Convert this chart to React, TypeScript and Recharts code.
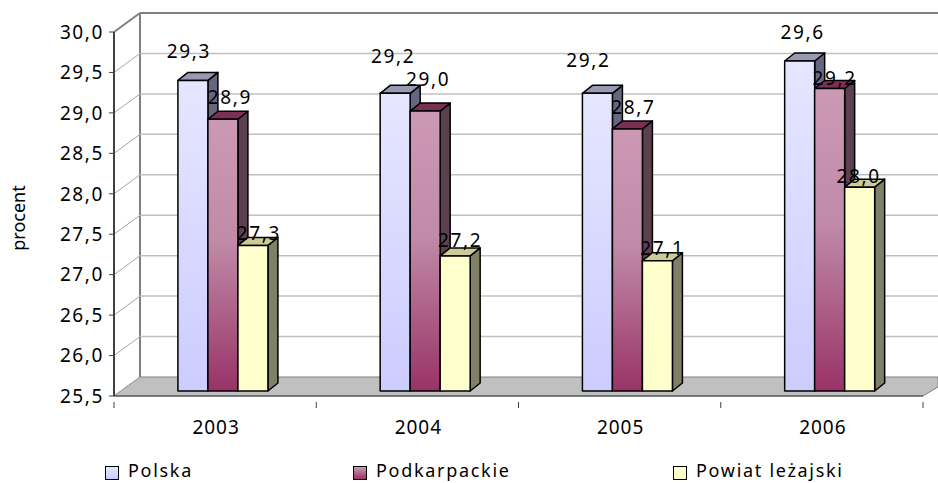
import { Bar, BarChart, CartesianGrid, LabelList, Legend, XAxis, YAxis } from "recharts";

const years = ["2003", "2004", "2005", "2006"];
const polska = [29.34, 29.18, 29.18, 29.58];
const podkarpackie = [28.86, 28.96, 28.74, 29.24];
const powiat = [27.3, 27.17, 27.11, 28.02];
const yTicks = [25.5, 26, 26.5, 27, 27.5, 28, 28.5, 29, 29.5, 30];

const data = years.map((year, i) => ({
  year,
  Polska: polska[i],
  Podkarpackie: podkarpackie[i],
  "Powiat leżajski": powiat[i],
}));

const FONT = "'Noto Sans', sans-serif";
const WIDTH = 938;
const HEIGHT = 483;
const X_AXIS_HEIGHT = 30;
const MARGIN = { top: 32, right: 15, left: 0, bottom: 87 - X_AXIS_HEIGHT };
const Y_AXIS_WIDTH = 114;
const BAND = (WIDTH - Y_AXIS_WIDTH - MARGIN.right) / years.length;
const WALL_X = 26;
const WALL_Y = 19;
const BAR_DX = 8.5;

// hand placed label offsets from the bar's top centre, the original has them all over
const polskaShift = [[-5, -29], [-3, -37], [-10, -33], [2, -29]];
const podkarpackieShift = [[6, -22], [2, -32], [5, -22], [4, -10]];
const powiatShift = [[5, -12], [4, -16], [4, -13], [-2, -11]];

const fmt = (v: number) => v.toFixed(1).replace(".", ",");

function gridLine(props: any) {
  const { x1, y1, x2, index } = props;
  const edge = y1 <= MARGIN.top + 1;
  const floor = index === 0 || y1 >= HEIGHT - MARGIN.bottom - X_AXIS_HEIGHT - 1;
  const bx = x1 + WALL_X;
  const by = y1 - WALL_Y;
  return (
    <g key={`line-${y1}`}>
      {floor && (
        <polygon
          points={`${x1},${y1} ${bx},${by} ${WIDTH},${by} ${WIDTH},${y1 - 9} ${x2},${y1}`}
          fill="#c0c0c0"
          stroke="#808080"
          strokeWidth={1}
        />
      )}
      {floor && <line x1={bx} y1={by} x2={bx} y2={MARGIN.top - WALL_Y} stroke="#808080" strokeWidth={2} />}
      <line x1={x1} y1={y1} x2={bx} y2={by} stroke={edge ? "#808080" : "#a6a6a6"} strokeWidth={edge ? 2 : 1} />
      {!floor && <line x1={bx} y1={by} x2={WIDTH} y2={by} stroke={edge ? "#808080" : "#c0c0c0"} strokeWidth={edge ? 2 : 1.5} />}
    </g>
  );
}

function box(front: string, side: string, top: string) {
  return function Box3D(props: any) {
    const { x, y, width, height } = props;
    const dy = -5;
    const ox = 10;
    const oy = -8;
    const l = x + BAR_DX;
    const t = y + dy;
    const r = l + width;
    const b = t + height;
    return (
      <g stroke="#000" strokeWidth={1.5} strokeLinejoin="round">
        <polygon points={`${r},${t} ${r + ox},${t + oy} ${r + ox},${b + oy} ${r},${b}`} fill={side} />
        <polygon points={`${l},${t} ${l + ox},${t + oy} ${r + ox},${t + oy} ${r},${t}`} fill={top} />
        <rect x={l} y={t} width={width} height={height} fill={front} />
      </g>
    );
  };
}

function valueLabel(shift: number[][]) {
  return function ValueLabel(props: any) {
    const { x, y, width, value, index } = props;
    return (
      <text
        x={x + 9.5 + width / 2 + shift[index][0]}
        y={y - 5 + shift[index][1] + 7}
        textAnchor="middle"
        fontFamily={FONT}
        fontSize={19}
        letterSpacing={1.6}
        fill="#000"
      >
        {fmt(value)}
      </text>
    );
  };
}

function YearTick(props: any) {
  const { x, y, payload, index } = props;
  const left = x - BAND / 2;
  return (
    <g>
      <line x1={left} y1={y - 8} x2={left} y2={y - 2} stroke="#404040" />
      {index === years.length - 1 && <line x1={left + BAND} y1={y - 8} x2={left + BAND} y2={y - 2} stroke="#404040" />}
      <text x={x + 1} y={y + 24} textAnchor="middle" fontFamily={FONT} fontSize={19} letterSpacing={1} fill="#000">
        {payload.value}
      </text>
    </g>
  );
}

function ProcentLabel() {
  return (
    <text transform="translate(25,218) rotate(-90)" textAnchor="middle" fontFamily={FONT} fontSize={18} fill="#000">
      procent
    </text>
  );
}

const legendItems = [
  { left: 105, background: "linear-gradient(#e6e6ff, #ccccff)" },
  { left: 353, background: "linear-gradient(#cc99b5, #993366)" },
  { left: 673, background: "#ffffcc" },
];

function LegendContent({ payload }: any) {
  return (
    <div style={{ position: "relative", height: 0 }}>
      {(payload || []).map((p: any, i: number) => (
        <div key={p.value} style={{ position: "absolute", left: legendItems[i].left, top: 0 }}>
          <div
            style={{
              position: "absolute",
              left: 0,
              top: 1,
              width: 12,
              height: 12,
              border: "1.5px solid #000",
              background: legendItems[i].background,
            }}
          />
          <span
            style={{
              position: "absolute",
              left: 23,
              top: -5,
              fontFamily: FONT,
              fontSize: 18,
              lineHeight: "20px",
              letterSpacing: 1.7,
              whiteSpace: "nowrap",
              color: "#000",
            }}
          >
            {p.value}
          </span>
        </div>
      ))}
    </div>
  );
}

export default function App() {
  return (
    <div style={{ position: "absolute", left: 0, top: 0, width: WIDTH, height: HEIGHT }}>
      <BarChart width={WIDTH} height={HEIGHT} data={data} margin={MARGIN} barGap={0} barCategoryGap="27.4%">
        <defs>
          <linearGradient id="polskaFill" x1="0" y1="0" x2="0" y2="1">
            <stop offset="0%" stopColor="#e6e6ff" />
            <stop offset="100%" stopColor="#ccccff" />
          </linearGradient>
          <linearGradient id="podkarpackieFill" x1="0" y1="0" x2="0" y2="1">
            <stop offset="0%" stopColor="#cc99b5" />
            <stop offset="45%" stopColor="#c08aa8" />
            <stop offset="100%" stopColor="#993366" />
          </linearGradient>
        </defs>
        <CartesianGrid vertical={false} horizontal={gridLine} />
        <XAxis
          dataKey="year"
          height={X_AXIS_HEIGHT}
          axisLine={{ stroke: "#404040", strokeWidth: 1 }}
          tickLine={false}
          tick={YearTick}
          interval={0}
          tickMargin={8}
        />
        <YAxis
          width={Y_AXIS_WIDTH}
          domain={[25.5, 30]}
          ticks={yTicks}
          interval={0}
          tickFormatter={fmt}
          axisLine={{ stroke: "#404040", strokeWidth: 2 }}
          tickLine={{ stroke: "#404040" }}
          tickSize={5}
          tickMargin={5}
          tick={{ fontFamily: FONT, fontSize: 19, fill: "#000", letterSpacing: 1.6 }}
          label={{ content: ProcentLabel }}
        />
        <Legend
          content={LegendContent}
          itemSorter={null}
          wrapperStyle={{ left: 0, top: 465, bottom: "auto", width: WIDTH, height: 0 }}
        />
        <Bar dataKey="Polska" fill="#ccccff" isAnimationActive={false} shape={box("url(#polskaFill)", "#666680", "#9999b3")}>
          <LabelList dataKey="Polska" content={valueLabel(polskaShift)} />
        </Bar>
        <Bar dataKey="Podkarpackie" fill="#993366" isAnimationActive={false} shape={box("url(#podkarpackieFill)", "#5c4050", "#7a3055")}>
          <LabelList dataKey="Podkarpackie" content={valueLabel(podkarpackieShift)} />
        </Bar>
        <Bar dataKey="Powiat leżajski" fill="#ffffcc" isAnimationActive={false} shape={box("#ffffcc", "#808066", "#cccc99")}>
          <LabelList dataKey="Powiat leżajski" content={valueLabel(powiatShift)} />
        </Bar>
      </BarChart>
    </div>
  );
}
